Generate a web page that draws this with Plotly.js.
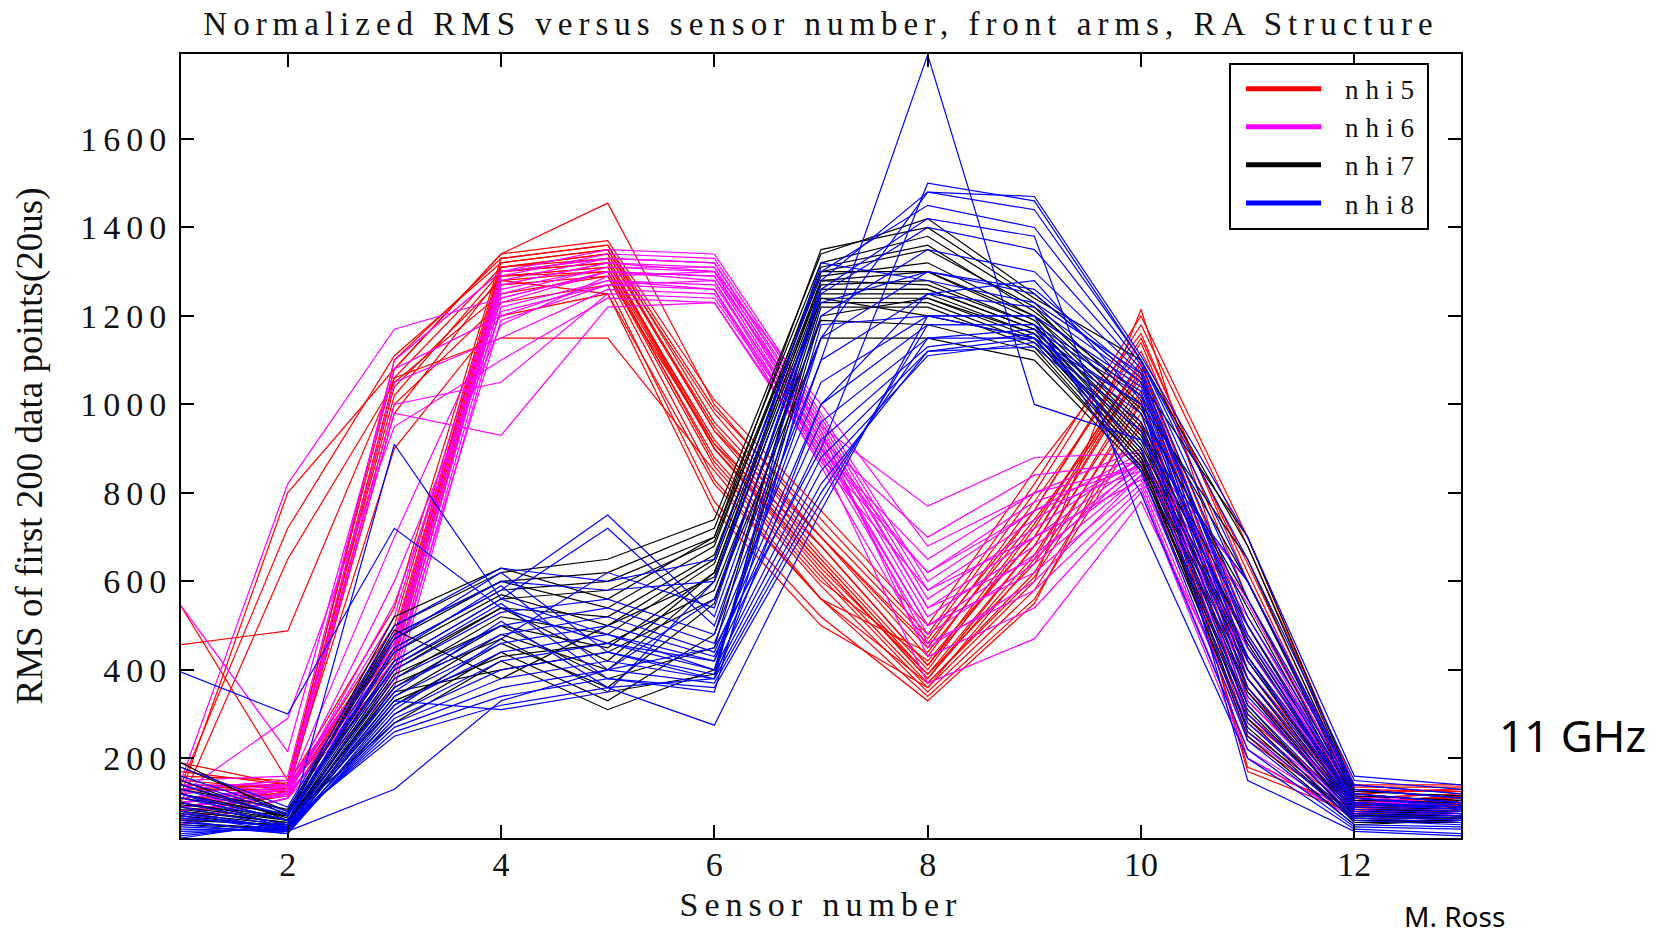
<!DOCTYPE html>
<html><head><meta charset="utf-8">
<script src="https://cdn.plot.ly/plotly-3.0.1.min.js"></script>
<style>
html,body{margin:0;padding:0;background:#fff;}
#chart{width:1666px;height:935px;}
.gtitle{letter-spacing:6px;}
.ytick text{letter-spacing:6px;}
.xtitle{letter-spacing:6px;}
.legendtext{letter-spacing:7px;}
.legend .traces .legendlines path{stroke-width:3px !important; stroke-dasharray:0 10px 75px 1000px !important;}
.legend .traces:nth-child(1) .legendlines path{stroke-width:5px !important;}
</style></head><body><div id="chart"></div>
<script>
const sensors = [1,2,3,4,5,6,7,8,9,10,11,12,13];
const seriesNames = ['nhi5','nhi6','nhi7','nhi8'];
const seriesColors = ['#ff0000','#ff00ff','#000000','#0000ff'];

const nhi5Runs = [
 [130,140,1100,1330,1360,960,700,430,760,1150,620,120,130],
 [150,130,1060,1310,1340,940,660,400,720,1100,450,110,120],
 [120,145,1020,1300,1320,900,640,380,680,1080,380,100,110],
 [110,120,980,1290,1300,880,610,360,650,1050,330,95,105],
 [160,150,1080,1340,1455,1000,720,470,800,1180,680,140,140],
 [544,150,440,1290,1310,870,600,420,700,1100,400,110,120],
 [457,488,1060,1150,1150,850,560,440,740,1060,360,100,115],
 [140,720,1110,1320,1350,980,700,450,780,1120,640,130,125],
 [100,650,1050,1250,1290,910,680,410,730,1090,500,105,110],
 [130,130,450,1300,1320,920,650,390,640,1000,300,90,100],
 [90,125,470,1310,1330,900,620,370,610,980,260,85,95],
 [80,115,420,1280,1300,860,590,350,580,960,240,80,100],
 [70,135,500,1320,1350,940,700,460,760,1140,560,120,130],
 [60,120,400,1270,1290,830,560,340,560,950,200,70,90],
 [170,140,540,1330,1360,990,740,480,820,1200,700,135,135],
 [50,110,460,1300,1330,910,640,380,660,1030,170,75,95],
 [130,125,1000,1230,1270,780,520,330,550,1010,180,90,110],
 [190,140,900,1200,1250,760,500,360,600,1215,450,100,115],
 [140,135,480,1310,1340,950,680,410,700,1080,420,100,110],
 [100,130,430,1290,1310,900,630,390,680,1070,350,95,105],
 [120,800,1080,1340,1370,1010,760,500,850,1160,600,125,130],
 [90,130,1040,1280,1250,820,560,370,620,1020,290,90,100]
];

const nhi6Runs = [
 [150,820,1170,1240,1300,1290,950,770,880,890,560,120,100],
 [545,215,1080,1200,1280,1270,920,700,840,870,500,110,95],
 [100,140,1000,1050,1250,1240,900,650,800,860,450,100,90],
 [90,130,980,930,1220,1230,880,620,760,850,400,95,85],
 [130,150,450,1280,1330,1320,960,560,720,880,480,105,90],
 [120,140,420,1270,1320,1310,940,540,700,870,450,100,85],
 [110,135,400,1260,1310,1300,930,520,680,860,420,95,80],
 [100,130,480,1290,1340,1330,970,580,740,880,520,110,90],
 [80,120,380,1240,1300,1290,910,500,660,850,380,90,75],
 [70,125,520,1300,1350,1340,980,600,760,890,550,115,95],
 [60,110,360,1220,1280,1260,890,480,640,840,350,85,70],
 [140,140,1050,1150,1260,1250,900,620,780,860,430,100,90],
 [120,290,950,1100,1240,1230,870,580,700,830,300,80,70],
 [90,115,550,1210,1270,1280,900,500,620,820,250,75,65],
 [100,120,600,1180,1290,1300,920,460,580,810,220,70,60],
 [50,110,440,1250,1310,1310,940,430,540,800,200,65,55],
 [110,130,700,1230,1300,1280,880,370,470,780,280,80,70],
 [130,150,460,1270,1320,1300,1000,680,800,900,600,120,100],
 [80,120,400,1190,1270,1260,860,450,600,840,330,85,75],
 [150,160,1100,1300,1330,1320,950,540,650,870,470,105,90]
];

const nhi7Runs = [
 [190,70,500,620,650,740,1340,1420,1250,1050,700,130,110],
 [180,80,480,600,620,720,1320,1380,1230,1000,650,120,100],
 [150,60,450,580,600,700,1300,1350,1220,980,560,110,95],
 [120,70,420,560,580,690,1290,1320,1200,960,500,100,90],
 [100,50,400,540,520,660,1280,1300,1190,950,460,90,85],
 [90,60,380,520,480,640,1270,1280,1180,930,430,85,80],
 [80,55,360,500,450,620,1260,1260,1170,920,400,80,75],
 [70,45,340,480,400,600,1250,1250,1160,900,380,75,70],
 [60,50,320,460,360,550,1240,1240,1150,880,350,70,65],
 [50,40,300,440,330,480,1230,1230,1140,870,320,60,60],
 [140,65,280,420,310,400,1220,1220,1130,860,290,55,55],
 [110,75,520,630,560,700,1350,1400,1240,1100,680,125,115],
 [130,85,470,600,540,680,1310,1360,1210,1020,600,115,105],
 [100,60,440,570,500,650,1300,1300,1200,990,540,105,100],
 [85,55,410,540,420,620,1280,1270,1180,940,470,95,90],
 [75,50,390,500,380,450,1260,1260,1170,910,420,85,80],
 [65,45,370,470,350,390,1200,1240,1160,890,360,70,70],
 [55,40,330,430,460,580,1190,1180,1120,860,310,65,65],
 [120,60,350,400,440,560,1150,1150,1100,850,270,60,55],
 [95,70,490,380,500,610,1240,1200,1150,880,250,50,60]
];

const nhi8Runs = [
 [395,300,720,540,460,420,1100,1790,1000,920,600,130,110],
 [120,40,910,560,480,400,1150,1480,1470,1110,700,160,140],
 [40,35,130,330,400,450,900,1500,1460,1100,650,150,130],
 [180,90,500,630,600,650,1300,1450,1400,1090,560,140,120],
 [160,80,480,600,580,600,1250,1400,1350,1080,520,130,110],
 [140,70,450,580,750,520,1200,1350,1300,1070,480,120,100],
 [120,60,420,560,720,500,1150,1300,1260,1060,450,110,95],
 [100,50,400,530,560,480,1100,1250,1220,1050,420,100,90],
 [90,45,380,500,540,460,1050,1200,1200,1040,400,95,85],
 [80,40,360,480,520,440,1000,1180,1180,1030,380,90,80],
 [70,35,340,460,500,430,960,1150,1170,1020,360,85,75],
 [60,30,320,440,480,420,920,1130,1160,1000,340,80,70],
 [50,30,300,420,460,400,880,1120,1150,980,320,75,65],
 [45,35,290,400,440,390,850,1110,1140,960,300,70,60],
 [35,40,280,380,420,380,820,1120,1130,940,280,65,55],
 [30,45,270,360,400,370,800,1150,1150,900,260,60,50],
 [25,50,260,340,380,360,780,1180,1180,850,240,50,45],
 [20,55,250,320,360,275,760,1200,1200,800,220,45,40],
 [110,60,470,620,440,380,1280,1480,1440,1100,600,140,120],
 [130,70,440,590,400,560,1230,1300,1250,1050,500,120,100],
 [150,75,410,550,380,350,1180,1200,1150,1000,430,110,90],
 [75,40,330,310,350,600,1320,1280,1230,1070,470,100,85],
 [55,35,310,470,620,540,1260,1420,1380,730,200,40,30],
 [65,45,350,510,360,380,1000,1250,1280,1010,150,35,25]
];

const xTickVals = [2,4,6,8,10,12];
const yTickVals = [200,400,600,800,1000,1200,1400,1600];

const allRuns = [nhi5Runs, nhi6Runs, nhi7Runs, nhi8Runs];
const traces = [];
allRuns.forEach((runs, s) => {
  runs.forEach((r, i) => {
    traces.push({
      x: sensors, y: r, type: 'scatter', mode: 'lines',
      name: seriesNames[s], legendgroup: seriesNames[s],
      showlegend: i === 0,
      line: {color: seriesColors[s], width: 1.2},
      hoverinfo: 'skip'
    });
  });
});

const serif = 'Liberation Serif, Times New Roman, serif';
const axisCommon = {
  showline: true, linecolor: '#000', linewidth: 2, mirror: 'ticks',
  ticks: 'inside', ticklen: 13, tickwidth: 2, tickcolor: '#000',
  showgrid: false, zeroline: false, automargin: false,
  tickfont: {family: serif, size: 34, color: '#111'}
};

const layout = {
  width: 1666, height: 935,
  margin: {l: 181, r: 205, t: 54, b: 97},
  paper_bgcolor: '#fff', plot_bgcolor: '#fff',
  showlegend: true,
  title: {text: 'Normalized RMS versus sensor number, front arms, RA Structure',
          font: {family: serif, size: 33, color: '#111'},
          x: 0.5, xref: 'paper', y: 1 - 23/935, yref: 'container', yanchor: 'middle'},
  xaxis: Object.assign({}, axisCommon, {
    range: [1, 13], tickvals: xTickVals, ticktext: xTickVals.map(String),
    ticklabelstandoff: -5,
    title: {text: 'Sensor number', font: {family: serif, size: 34, color: '#111'}, standoff: 10}
  }),
  yaxis: Object.assign({}, axisCommon, {
    range: [20, 1792], tickvals: yTickVals, ticktext: yTickVals.map(String),
    title: {text: 'RMS of first 200 data points(20us)', font: {family: serif, size: 37, color: '#111'}, standoff: 26}
  }),
  legend: {
    x: 0.8188, y: 0.989, xanchor: 'left', yanchor: 'top',
    bgcolor: '#fff', bordercolor: '#000', borderwidth: 2,
    font: {family: serif, size: 27, color: '#111'},
    itemwidth: 104, tracegroupgap: 0
  },
  annotations: [
    {text: '11 GHz', xref: 'paper', yref: 'paper', x: 1.0868, y: 0.1318,
     xanchor: 'center', yanchor: 'middle', showarrow: false,
     font: {family: 'Comic Sans MS, Noto Sans, sans-serif', size: 44, color: '#000'}},
    {text: 'M. Ross', xref: 'paper', yref: 'paper', x: 0.9946, y: -0.0991,
     xanchor: 'center', yanchor: 'middle', showarrow: false, borderpad: 0,
     font: {family: 'Comic Sans MS, Noto Sans, sans-serif', size: 28, color: '#000'}}
  ]
};

Plotly.newPlot('chart', traces, layout, {displayModeBar: false, staticPlot: true});
</script>
</body></html>
